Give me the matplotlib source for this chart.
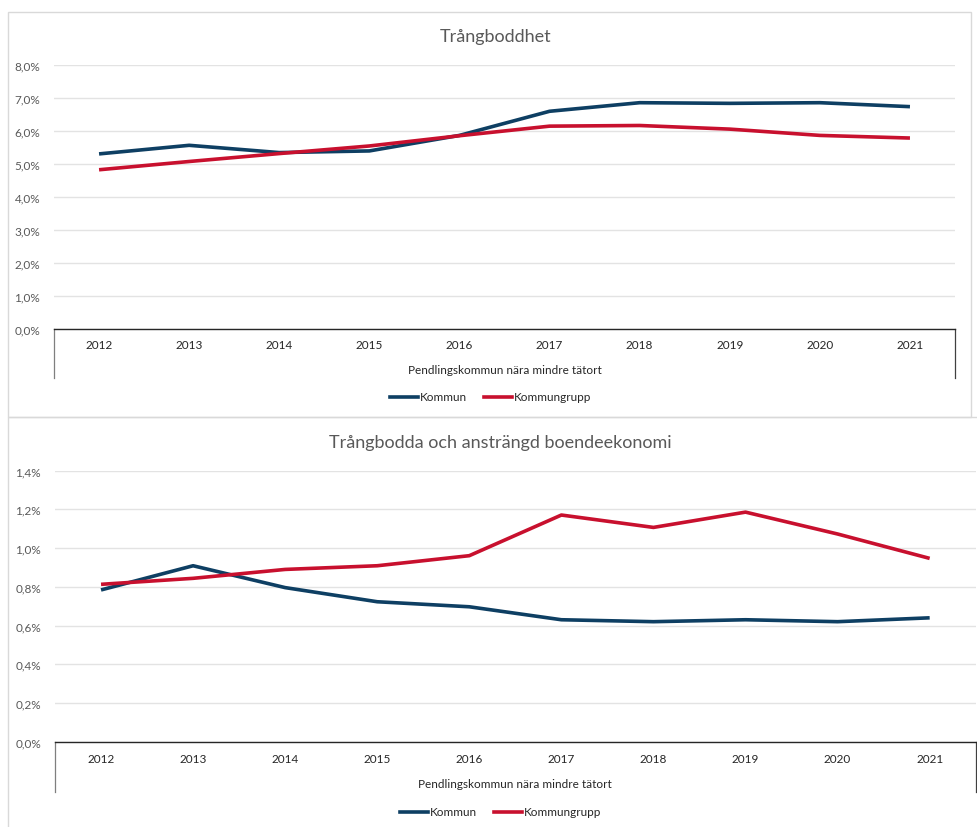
import matplotlib

matplotlib.use('Agg')
import matplotlib.pyplot as plt
from matplotlib.lines import Line2D
from matplotlib.patches import Rectangle
from matplotlib.ticker import FuncFormatter

plt.rcParams['font.family'] = ['Lato', 'DejaVu Sans']

years = ['2012', '2013', '2014', '2015', '2016', '2017', '2018', '2019', '2020', '2021']

# Trångboddhet (%)
trang_kommun = [5.30, 5.56, 5.34, 5.39, 5.86, 6.59, 6.85, 6.83, 6.85, 6.73]
trang_grupp = [4.82, 5.07, 5.31, 5.54, 5.85, 6.14, 6.16, 6.05, 5.86, 5.78]

# Trångbodda och ansträngd boendeekonomi (%)
ekon_kommun = [0.784, 0.909, 0.796, 0.723, 0.697, 0.630, 0.620, 0.630, 0.620, 0.640]
ekon_grupp = [0.813, 0.844, 0.890, 0.909, 0.961, 1.171, 1.107, 1.186, 1.073, 0.947]

group_label = 'Pendlingskommun nära mindre tätort'
series_names = ['Kommun', 'Kommungrupp']

BLUE = '#0E3F63'
RED = '#C8102E'
GRID = '#E3E3E3'
TXT = '#595959'

W, H = 978, 828
fig = plt.figure(figsize=(W / 100, H / 100), dpi=100)


def px_axes(x0, y0, x1, y1):
    # pixel box (top-left origin) -> figure axes
    return fig.add_axes([x0 / W, 1 - y1 / H, (x1 - x0) / W, (y1 - y0) / H])


def draw_chart(box, plot, title, title_x, title_y, kom, grp, ymax, step,
               label_y, group_y, legend_y, legend_x):
    bx0, by0, bx1, by1 = box
    fig.patches.append(Rectangle((bx0 / W, 1 - by1 / H), (bx1 - bx0) / W, (by1 - by0) / H,
                                 transform=fig.transFigure, fill=False,
                                 edgecolor='#D9D9D9', linewidth=1.0))
    x0, y0, x1, y1 = plot
    ax = px_axes(x0, y0, x1, y1)
    xs = list(range(len(years)))
    ax.plot(xs, kom, color=BLUE, linewidth=2.6, solid_capstyle='butt', zorder=3)
    ax.plot(xs, grp, color=RED, linewidth=2.6, solid_capstyle='butt', zorder=3)
    ax.set_xlim(-0.5, len(years) - 0.5)
    ax.set_ylim(0, ymax)
    n = int(round(ymax / step))
    ax.set_yticks([i * step for i in range(n + 1)])
    ax.yaxis.set_major_formatter(FuncFormatter(lambda v, p: '{:.1f}%'.format(v).replace('.', ',')))
    ax.grid(axis='y', color=GRID, linewidth=1.0)
    ax.set_axisbelow(True)
    for s in ['top', 'right', 'left']:
        ax.spines[s].set_visible(False)
    ax.spines['bottom'].set_color('#262626')
    ax.spines['bottom'].set_linewidth(1.0)
    ax.tick_params(axis='y', length=0, labelsize=8.5, labelcolor=TXT, pad=10)
    ax.tick_params(axis='x', length=0, labelbottom=False)
    ax.set_xticks(xs)
    ph = y1 - y0
    for i, yr in enumerate(years):
        ax.text(i, -(label_y - y1) / ph, yr, transform=ax.get_xaxis_transform(),
                ha='center', va='center', fontsize=8.5, color='#262626')
    # multi-level category frame
    bottom = -(group_y + 8 - y1) / ph
    for xv in (0, 1):
        ax.add_line(Line2D([xv, xv], [0, bottom], transform=ax.transAxes,
                           color='#7F7F7F' if xv == 0 else '#404040', linewidth=0.9, clip_on=False))
    ax.text(0.5, -(group_y - y1) / ph, group_label, transform=ax.transAxes,
            ha='center', va='center', fontsize=8.5, color='#262626')
    fig.text(title_x / W, 1 - title_y / H, title, ha='center', va='center', fontsize=13, color=TXT)
    # legend
    lx = legend_x
    for name, col in zip(series_names, [BLUE, RED]):
        fig.add_artist(Line2D([lx / W, (lx + 28) / W], [1 - legend_y / H] * 2,
                              color=col, linewidth=2.6, transform=fig.transFigure))
        fig.text((lx + 30) / W, 1 - legend_y / H, name, ha='left', va='center',
                 fontsize=8.5, color='#262626')
        lx += 94
    return ax


draw_chart((8, 13, 971, 418), (54, 65.7, 955, 330), 'Trångboddhet', 496, 37,
           trang_kommun, trang_grupp, 8.0, 1.0,
           346, 371, 398, 390)

draw_chart((8, 418, 990, 840), (55, 471.7, 975.7, 742.7),
           'Trångbodda och ansträngd boendeekonomi', 500, 442.7,
           ekon_kommun, ekon_grupp, 1.4, 0.2,
           760, 785, 812.7, 400)

fig.savefig('out.png', dpi=100, facecolor='white')
